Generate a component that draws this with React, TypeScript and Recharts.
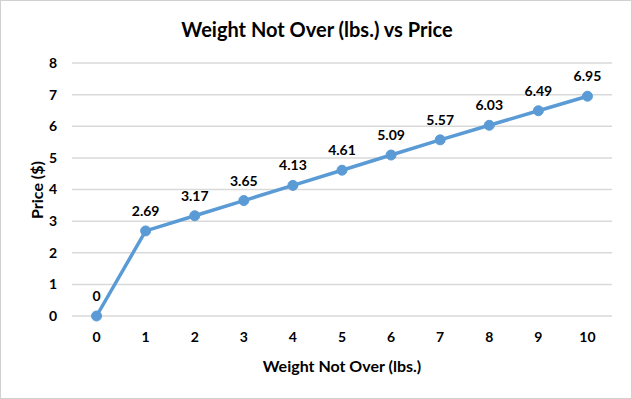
import React from 'react';
import { LineChart, Line, XAxis, YAxis, CartesianGrid, LabelList, Label } from 'recharts';

const weights = [0, 1, 2, 3, 4, 5, 6, 7, 8, 9, 10];
const prices = [0, 2.69, 3.17, 3.65, 4.13, 4.61, 5.09, 5.57, 6.03, 6.49, 6.95];
const yTicks = [0, 1, 2, 3, 4, 5, 6, 7, 8];

const FONT = 'Lato, "Open Sans", sans-serif';

const chartData = weights.map((w, i) => ({ weight: w, price: prices[i] }));

const YTitle = () => (
  <text
    x={36}
    y={190}
    transform="rotate(-90 36 190)"
    textAnchor="middle"
    dominantBaseline="central"
    fontFamily={FONT}
    fontWeight={700}
    fontSize={16}
    fill="#000"
  >
    Price ($)
  </text>
);

const App: React.FC = () => {
  return (
    <div
      style={{
        position: 'absolute',
        left: 0,
        top: 0,
        width: 632,
        height: 399,
        background: '#fff',
        border: '1px solid #d0d0d0',
        boxSizing: 'border-box',
        fontFamily: FONT,
      }}
    >
      <div
        style={{
          position: 'absolute',
          left: 0,
          top: 16,
          width: 632,
          textAlign: 'center',
          fontSize: 20,
          fontWeight: 700,
          color: '#000',
        }}
      >
        Weight Not Over (lbs.) vs Price
      </div>
      <div style={{ position: 'absolute', left: -1, top: -1 }}>
        <LineChart width={632} height={399} data={chartData} margin={{ top: 63, right: 20, bottom: 0, left: 0 }}>
          <CartesianGrid vertical={false} stroke="#d9d9d9" strokeWidth={1.5} />
          <XAxis
            dataKey="weight"
            type="number"
            domain={[-0.5, 10.5]}
            ticks={weights}
            height={83}
            axisLine={false}
            tickLine={false}
            tickSize={0}
            tickMargin={16}
            tick={{ fill: '#000', fontSize: 14, fontWeight: 700, fontFamily: FONT }}
          >
            <Label
              value="Weight Not Over (lbs.)"
              position="insideBottom"
              offset={27}
              style={{ fill: '#000', fontSize: 16, fontWeight: 700, fontFamily: FONT }}
            />
          </XAxis>
          <YAxis
            type="number"
            domain={[0, 8]}
            ticks={yTicks}
            width={72}
            axisLine={false}
            tickLine={false}
            tickSize={0}
            tickMargin={15}
            tick={{ fill: '#000', fontSize: 14, fontWeight: 700, fontFamily: FONT }}
          >
            <Label content={<YTitle />} />
          </YAxis>
          <Line
            type="linear"
            dataKey="price"
            stroke="#5B9BD5"
            strokeWidth={3.5}
            dot={{ r: 5, fill: '#5B9BD5', stroke: '#5B9BD5', strokeWidth: 1 }}
            isAnimationActive={false}
          >
            <LabelList
              dataKey="price"
              position="top"
              offset={15}
              style={{ fill: '#000', fontSize: 14, fontWeight: 700, fontFamily: FONT }}
            />
          </Line>
        </LineChart>
      </div>
    </div>
  );
};

export default App;
